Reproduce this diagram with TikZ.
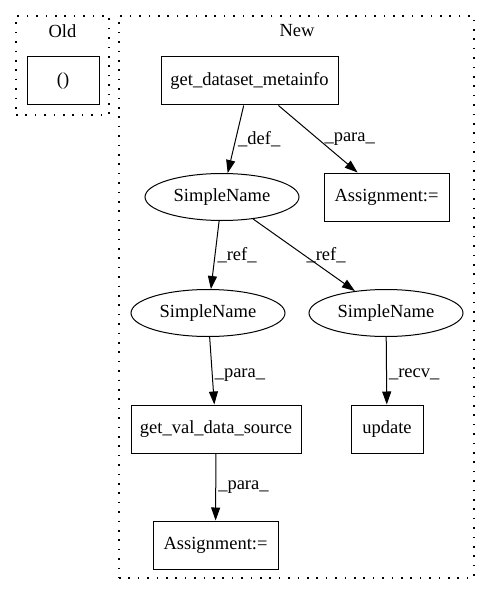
\documentclass[tikz,border=0pt]{standalone}
\usepackage{fontspec}
\setmainfont{Liberation Serif}
\usepackage{tikz}
\usetikzlibrary{arrows.meta, positioning, shapes.geometric}

\begin{document}
\begin{tikzpicture}[
    x=1pt, y=-1pt,
    every node/.style={font=\fontsize{18.5}{22}\selectfont},
    box/.style={draw, rectangle, line width=1pt, minimum height=48pt,
                inner sep=0pt},
    sname/.style={draw, ellipse, line width=1pt, minimum width=154pt,
                  minimum height=47pt, inner sep=0pt},
    cluster/.style={draw, dash pattern=on 1.6pt off 7.8pt, line width=1.3pt,
                    rectangle, inner sep=0pt},
    elabel/.style={right, inner sep=2pt},
    arrow/.style={-{Triangle[length=13pt, width=9pt]}, line width=1pt},
  ]
    \useasboundingbox (0,0) rectangle (491,596);

    % Clusters
    \node[cluster, minimum width=93pt, minimum height=99pt] (oldcl) at (62.5,65.5) {};
    \node (oldlbl) at (62.5,31) {Old};
    \node[cluster, minimum width=355pt, minimum height=562pt] (newcl) at (296.5,297) {};
    \node (newlbl) at (297,31) {New};

    % Old
    \node[box, minimum width=72pt] (paren) at (63,81) {()};

    % New
    \node[box, minimum width=177pt] (meta) at (249.5,81) {get\_dataset\_metainfo};
    \node[sname] (sn) at (222,197) {SimpleName};
    \node[box, minimum width=125pt] (assign1) at (386.5,197) {Assignment:=};
    \node[sname] (snleft) at (208,313) {SimpleName};
    \node[sname] (snright) at (386,313) {SimpleName};
    \node[box, minimum width=170pt] (valsrc) at (216,429) {get\_val\_data\_source};
    \node[box, minimum width=72pt] (update) at (387,429) {update};
    \node[box, minimum width=125pt] (assign2) at (215.5,545) {Assignment:=};

    % Arrows
    \draw[arrow] (meta) -- node[elabel] {\_def\_} (sn);
    \draw[arrow] (meta) -- node[elabel, xshift=4pt] {\_para\_} (assign1);
    \draw[arrow] (sn) -- node[elabel] {\_ref\_} (snleft);
    \draw[arrow] (sn) -- node[elabel] {\_ref\_} (snright);
    \draw[arrow] (snleft) -- node[elabel, pos=0.56] {\_para\_} (valsrc);
    \draw[arrow] (snright) -- node[elabel, pos=0.56] {\_recv\_} (update);
    \draw[arrow] (valsrc) -- node[elabel] {\_para\_} (assign2);
  \end{tikzpicture}
\end{document}
